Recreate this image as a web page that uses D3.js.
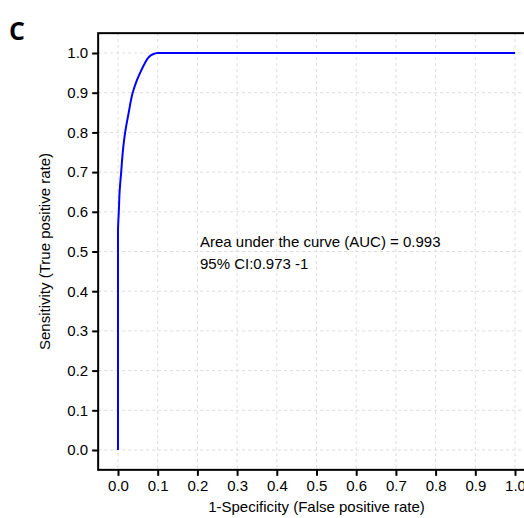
<!DOCTYPE html>
<html>
<head>
<meta charset="utf-8">
<script src="https://cdn.jsdelivr.net/npm/d3@7"></script>
<style>
  body { margin: 0; background: #fff; }
  svg { display: block; }
</style>
</head>
<body>
<script>
// ROC curve, values
var fpr = [0, 0, 0.001, 0.002, 0.004, 0.008, 0.012, 0.018, 0.027, 0.037, 0.047, 0.058, 0.068, 0.078, 0.088, 0.1, 1];
var tpr = [0, 0.55, 0.58, 0.6, 0.65, 0.7, 0.75, 0.8, 0.85, 0.9, 0.93, 0.955, 0.975, 0.99, 0.997, 1, 1];
var tickValues = [0, 0.1, 0.2, 0.3, 0.4, 0.5, 0.6, 0.7, 0.8, 0.9, 1.0];
var annotation = ['Area under the curve (AUC) = 0.993', '95% CI:0.973 -1'];

var W = 524, H = 518,
    FONT = '"Liberation Sans", Arial, sans-serif',
    FONT_SIZE = '15px';

var svg = d3.select('body').append('svg')
    .attr('width', W)
    .attr('height', H);

var x = d3.scaleLinear().domain([0, 1]).range([118, 515]),
    y = d3.scaleLinear().domain([0, 1]).range([450, 53]);

var boxLeft = x(-0.05), boxRight = x(1.05),
    boxTop = y(1.05), boxBottom = y(-0.05);

// grid
var grid = svg.append('g')
    .attr('stroke', '#dcdcdc')
    .attr('stroke-width', 1)
    .attr('stroke-dasharray', '3,3');
grid.selectAll('.gx').data(tickValues).enter().append('line')
    .attr('x1', d => x(d)).attr('x2', d => x(d))
    .attr('y1', boxTop).attr('y2', boxBottom);
grid.selectAll('.gy').data(tickValues).enter().append('line')
    .attr('y1', d => y(d)).attr('y2', d => y(d))
    .attr('x1', boxLeft).attr('x2', boxRight);

// the curve
var pts = fpr.map((f, i) => [f, tpr[i]]);
svg.append('path')
    .datum(pts)
    .attr('fill', 'none')
    .attr('stroke', '#0000ff')
    .attr('stroke-width', 2)
    .attr('d', d3.line()
        .x(d => x(d[0]))
        .y(d => y(d[1]))
        .curve(d3.curveMonotoneY));

// box
svg.append('rect')
    .attr('x', boxLeft).attr('y', boxTop)
    .attr('width', boxRight - boxLeft).attr('height', boxBottom - boxTop)
    .attr('fill', 'none')
    .attr('stroke', '#000')
    .attr('stroke-width', 2);

// axes
var xAxis = svg.append('g')
    .attr('transform', 'translate(0,' + boxBottom + ')')
    .call(d3.axisBottom(x).tickValues(tickValues).tickFormat(d3.format('.1f')).tickSize(6).tickPadding(5));
var yAxis = svg.append('g')
    .attr('transform', 'translate(' + boxLeft + ',0)')
    .call(d3.axisLeft(y).tickValues(tickValues).tickFormat(d3.format('.1f')).tickSize(6).tickPadding(4));

[xAxis, yAxis].forEach(a => {
    a.select('.domain').remove();
    a.selectAll('line').attr('stroke', '#000').attr('stroke-width', 2);
    a.selectAll('text')
        .attr('fill', '#000')
        .style('font-family', FONT)
        .style('font-size', FONT_SIZE);
});

// axis titles
svg.append('text')
    .attr('x', x(0.5)).attr('y', 512)
    .attr('text-anchor', 'middle')
    .style('font-family', FONT).style('font-size', FONT_SIZE)
    .text('1-Specificity (False positive rate)');
svg.append('text')
    .attr('transform', 'translate(50,' + y(0.5) + ') rotate(-90)')
    .attr('text-anchor', 'middle')
    .style('font-family', FONT).style('font-size', FONT_SIZE)
    .text('Sensitivity (True positive rate)');

// AUC note
svg.selectAll('.note').data(annotation).enter().append('text')
    .attr('x', 200)
    .attr('y', (d, i) => 247 + i * 22)
    .style('font-family', FONT).style('font-size', FONT_SIZE)
    .text(d => d);

// panel letter
svg.append('text')
    .attr('x', 9).attr('y', 40)
    .style('font-family', '"Open Sans", sans-serif')
    .style('font-weight', 'bold')
    .style('font-size', '25px')
    .text('C');
</script>
</body>
</html>
